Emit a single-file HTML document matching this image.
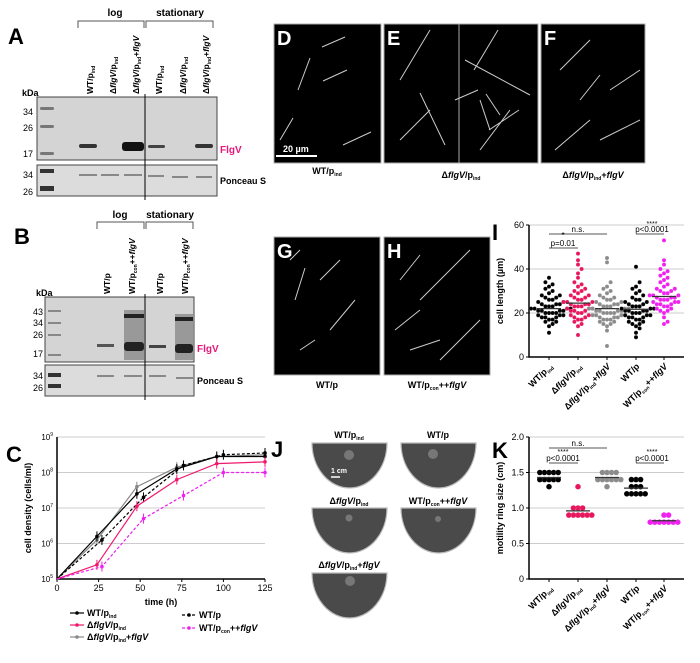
<!DOCTYPE html>
<html><head><meta charset="utf-8"><style>
html,body{margin:0;padding:0;background:#fff}
svg{display:block;font-family:"Liberation Sans",Arial,sans-serif}
</style></head><body>
<svg id="fig" width="700" height="663" viewBox="0 0 700 663">
<g font-weight="bold" font-size="22" fill="#000">
<text x="8" y="44">A</text><text x="14" y="244">B</text><text x="6" y="462">C</text>
<text x="492" y="240">I</text><text x="271" y="457">J</text><text x="492" y="458">K</text>
</g>

<g>
<text x="115" y="16" font-size="10" text-anchor="middle" font-weight="bold">log</text>
<text x="180" y="16" font-size="10" text-anchor="middle" font-weight="bold">stationary</text>
<path d="M78 28V21H144V28M146 28V21H213V28" fill="none" stroke="#555" stroke-width="1"/>
<g font-size="8.5" font-weight="bold">
<text transform="translate(93,94) rotate(-90)">WT/p<tspan font-size="5" dy="2">ind</tspan></text>
<text transform="translate(116,94) rotate(-90)">Δ<tspan font-style="italic">flgV</tspan>/p<tspan font-size="5" dy="2">ind</tspan></text>
<text transform="translate(139,94) rotate(-90)">Δ<tspan font-style="italic">flgV</tspan>/p<tspan font-size="5" dy="2">ind</tspan><tspan dy="-2">+</tspan><tspan font-style="italic">flgV</tspan></text>
<text transform="translate(162,94) rotate(-90)">WT/p<tspan font-size="5" dy="2">ind</tspan></text>
<text transform="translate(186,94) rotate(-90)">Δ<tspan font-style="italic">flgV</tspan>/p<tspan font-size="5" dy="2">ind</tspan></text>
<text transform="translate(209,94) rotate(-90)">Δ<tspan font-style="italic">flgV</tspan>/p<tspan font-size="5" dy="2">ind</tspan><tspan dy="-2">+</tspan><tspan font-style="italic">flgV</tspan></text>
</g>
<text x="22" y="96" font-size="9" font-weight="bold">kDa</text>
<g font-size="9" text-anchor="end"><text x="33" y="115">34</text><text x="33" y="131">26</text><text x="33" y="157">17</text><text x="33" y="178">34</text><text x="33" y="195">26</text></g>
<rect x="37" y="97" width="180" height="63" fill="#d4d4d4" stroke="#444"/>
<rect x="37" y="165" width="180" height="31" fill="#dcdcdc" stroke="#444"/>
<g fill="#777"><rect x="40" y="107" width="14" height="3" rx="1.5"/><rect x="40" y="125" width="14" height="3" rx="1.5"/><rect x="40" y="152" width="14" height="3" rx="1.5"/></g>
<g fill="#333"><rect x="40" y="169" width="14" height="4"/><rect x="40" y="186" width="14" height="5"/></g>
<g fill="#333"><rect x="79" y="144" width="18" height="4" rx="2"/><rect x="122" y="142" width="22" height="9" rx="3" fill="#111"/><rect x="148" y="145" width="17" height="3" rx="1.5" fill="#444"/><rect x="195" y="144" width="18" height="4" rx="2"/></g>
<g fill="#888"><rect x="79" y="174" width="18" height="2"/><rect x="101" y="174" width="18" height="2"/><rect x="124" y="174" width="18" height="2"/><rect x="148" y="175" width="16" height="2"/><rect x="172" y="176" width="16" height="2"/><rect x="196" y="176" width="16" height="2"/></g>
<line x1="145" y1="94" x2="145" y2="200" stroke="#000"/>
<text x="220" y="153" font-size="10" font-weight="bold" fill="#e8177a">FlgV</text>
<text x="220" y="184" font-size="9" font-weight="bold">Ponceau S</text>
</g>

<g>
<path d="M97 229V222H144V229M146 229V222H193V229" fill="none" stroke="#555"/>
<text x="120" y="218" font-size="10" text-anchor="middle" font-weight="bold">log</text>
<text x="170" y="218" font-size="10" text-anchor="middle" font-weight="bold">stationary</text>
<g font-size="8.5" font-weight="bold">
<text transform="translate(110,294) rotate(-90)">WT/p</text>
<text transform="translate(135,294) rotate(-90)">WT/p<tspan font-size="5" dy="2">con</tspan><tspan dy="-2">++</tspan><tspan font-style="italic">flgV</tspan></text>
<text transform="translate(163,294) rotate(-90)">WT/p</text>
<text transform="translate(188,294) rotate(-90)">WT/p<tspan font-size="5" dy="2">con</tspan><tspan dy="-2">++</tspan><tspan font-style="italic">flgV</tspan></text>
</g>
<text x="36" y="296" font-size="9" font-weight="bold">kDa</text>
<g font-size="9" text-anchor="end"><text x="43" y="315">43</text><text x="43" y="326">34</text><text x="43" y="338">26</text><text x="43" y="357">17</text><text x="43" y="379">34</text><text x="43" y="391">26</text></g>
<rect x="45" y="297" width="149" height="65" fill="#d4d4d4" stroke="#444"/>
<rect x="45" y="365" width="149" height="31" fill="#dcdcdc" stroke="#444"/>
<g fill="#888"><rect x="48" y="310" width="13" height="2"/><rect x="48" y="322" width="13" height="2"/><rect x="48" y="334" width="13" height="2"/><rect x="48" y="354" width="13" height="2"/></g>
<g fill="#333"><rect x="48" y="373" width="13" height="4"/><rect x="48" y="384" width="13" height="4"/></g>
<rect x="124" y="310" width="20" height="50" fill="#999"/><rect x="175" y="314" width="18" height="46" fill="#999"/>
<g fill="#222"><rect x="124" y="314" width="20" height="4"/><rect x="175" y="317" width="18" height="4"/><rect x="124" y="342" width="20" height="9" rx="3"/><rect x="175" y="344" width="18" height="9" rx="3"/><rect x="97" y="344" width="17" height="3" fill="#555"/><rect x="149" y="345" width="17" height="3" fill="#444"/></g>
<g fill="#888"><rect x="97" y="375" width="17" height="2"/><rect x="124" y="375" width="18" height="2"/><rect x="149" y="375" width="17" height="2"/><rect x="176" y="377" width="17" height="2"/></g>
<line x1="145" y1="294" x2="145" y2="400" stroke="#000"/>
<text x="197" y="352" font-size="10" font-weight="bold" fill="#e8177a">FlgV</text>
<text x="197" y="384" font-size="9" font-weight="bold">Ponceau S</text>
</g>

<g>
<rect x="274" y="24" width="107" height="139" fill="#000" stroke="#aaa"/>
<rect x="384" y="24" width="154" height="139" fill="#000" stroke="#aaa"/>
<line x1="459" y1="24" x2="459" y2="163" stroke="#aaa"/>
<rect x="541" y="24" width="104" height="139" fill="#000" stroke="#aaa"/>
<rect x="274" y="237" width="106" height="138" fill="#000" stroke="#aaa"/>
<rect x="384" y="237" width="106" height="138" fill="#000" stroke="#aaa"/>
<g stroke="#ccc" stroke-width="1" fill="none">
<path d="M322 47L345 37M310 58L298 90M323 81L347 70M293 118L280 140M343 145L371 132"/>
<path d="M400 80L430 30M420 93L445 145M400 140L430 110M480 150L510 110M474 70L498 30M486 94L500 115M478 90L455 100M480 100L490 130M465 60L530 95M489 130L519 110"/>
<path d="M560 70L590 40M580 100L600 75M555 150L590 120M600 140L640 120M610 90L640 70"/>
<path d="M290 260L300 250M295 300L305 268M320 280L340 260M330 330L355 300M300 350L315 340"/>
<path d="M400 280L420 255M420 300L470 250M395 330L420 310M440 360L480 320M410 350L440 340"/>
</g>
<g font-size="20" font-weight="bold" fill="#fff"><text x="277" y="45">D</text><text x="387" y="45">E</text><text x="544" y="45">F</text><text x="277" y="258">G</text><text x="387" y="258">H</text></g>
<line x1="276" y1="156" x2="317" y2="156" stroke="#fff" stroke-width="2"/>
<text x="283" y="152" font-size="9" font-weight="bold" fill="#fff">20 µm</text>
<g font-size="9" font-weight="bold" text-anchor="middle">
<text x="327" y="174">WT/p<tspan font-size="5" dy="2">ind</tspan></text>
<text x="461" y="178">Δ<tspan font-style="italic">flgV</tspan>/p<tspan font-size="5" dy="2">ind</tspan></text>
<text x="593" y="178">Δ<tspan font-style="italic">flgV</tspan>/p<tspan font-size="5" dy="2">ind</tspan><tspan dy="-2">+</tspan><tspan font-style="italic">flgV</tspan></text>
<text x="327" y="388">WT/p</text>
<text x="437" y="388">WT/p<tspan font-size="5" dy="2">con</tspan><tspan dy="-2">++</tspan><tspan font-style="italic">flgV</tspan></text>
</g>
</g>

<g font-size="9" font-weight="bold" text-anchor="middle">
<text x="349" y="438">WT/p<tspan font-size="5" dy="2">ind</tspan></text>
<text x="438" y="438">WT/p</text>
<text x="349" y="504">Δ<tspan font-style="italic">flgV</tspan>/p<tspan font-size="5" dy="2">ind</tspan></text>
<text x="438" y="504">WT/p<tspan font-size="5" dy="2">con</tspan><tspan dy="-2">++</tspan><tspan font-style="italic">flgV</tspan></text>
<text x="349" y="568">Δ<tspan font-style="italic">flgV</tspan>/p<tspan font-size="5" dy="2">ind</tspan><tspan dy="-2">+</tspan><tspan font-style="italic">flgV</tspan></text>
<g fill="#4a4a4a" stroke="#bbb" stroke-width="1.2">
<path d="M312 443H387A37.5 45 0 0 1 312 443Z"/><path d="M401 443H476A37.5 45 0 0 1 401 443Z"/>
<path d="M312 508H387A37.5 45 0 0 1 312 508Z"/><path d="M401 508H476A37.5 45 0 0 1 401 508Z"/>
<path d="M312 573H387A37.5 45 0 0 1 312 573Z"/>
</g>
<g fill="#777"><circle cx="349" cy="455" r="5"/><circle cx="433" cy="454" r="5"/><circle cx="349" cy="518" r="3.5"/><circle cx="438" cy="519" r="3"/><circle cx="350" cy="581" r="5"/></g>
<line x1="331" y1="477" x2="340" y2="477" stroke="#fff" stroke-width="1.5"/>
<text x="339" y="473" fill="#fff" font-size="7">1 cm</text>
</g>

<g id="chartC"></g>
<g id="chartI"></g>
<g id="chartK"></g>
</svg>
<script>
// ===== Panel C data =====
const cSeriesNames = ["WT/p_ind","ΔflgV/p_ind","ΔflgV/p_ind+flgV","WT/p","WT/p_con++flgV"];
const cTimesA = [0,24,48,72,96,125];
const cTimesB = [0,27,52,76,100,125];
const cWTind = [5,6.2,7.4,8.1,8.45,8.45];
const cDeltaInd = [5,5.4,7.05,7.8,8.25,8.3];
const cDeltaComp = [5,6.1,7.6,8.15,8.45,8.5];
const cWTp = [5,6.1,7.3,8.2,8.5,8.55];
const cWTcon = [5,5.35,6.7,7.35,8.0,8.0];
const cXTicks = [0,25,50,75,100,125];
const cYTicks = [5,6,7,8,9];
// ===== Panel I data =====
const iCats = ["WT/p_ind","ΔflgV/p_ind","ΔflgV/p_ind+flgV","WT/p","WT/p_con++flgV"];
const iMeans = [22,24.5,22,21.7,27.5];
const iWTind = [11,14,15,16,16,17,17,18,18,18,19,19,19,20,20,20,20,21,21,21,21,22,22,22,22,23,23,23,24,24,24,25,25,26,26,27,27,28,28,29,30,31,32,33,34,36];
const iDeltaInd = [10,14,15,16,17,17,18,18,19,19,20,20,21,21,21,22,22,22,23,23,23,24,24,24,25,25,25,26,26,27,27,28,28,29,30,30,31,32,33,34,36,38,40,42,44,47];
const iDeltaComp = [5,12,14,15,15,16,16,17,17,17,18,18,18,19,19,19,19,20,20,20,20,21,21,21,21,22,22,22,22,23,23,23,24,24,24,25,25,26,26,27,27,28,29,30,31,32,34,43,45];
const iWTp = [9,11,13,14,15,15,16,16,17,17,18,18,18,19,19,19,20,20,20,21,21,21,21,22,22,22,23,23,23,24,24,25,25,26,26,27,28,29,30,31,32,34,41];
const iWTcon = [15,16,18,20,21,21,22,22,23,23,24,24,24,25,25,25,26,26,26,27,27,27,28,28,28,29,29,30,30,31,31,32,33,34,35,36,37,38,39,40,42,44,53];
const iYTicks = [0,20,40,60];
// ===== Panel K data =====
const kMeans = [1.43,0.96,1.43,1.28,0.82];
const kWTind = [1.3,1.4,1.4,1.4,1.4,1.4,1.5,1.5,1.5,1.5,1.5];
const kDeltaInd = [0.9,0.9,0.9,0.9,0.9,0.9,1.0,1.0,1.0,1.3];
const kDeltaComp = [1.3,1.4,1.4,1.4,1.4,1.4,1.4,1.5,1.5,1.5,1.5];
const kWTp = [1.2,1.2,1.2,1.2,1.2,1.3,1.3,1.3,1.4,1.4,1.4];
const kWTcon = [0.8,0.8,0.8,0.8,0.8,0.8,0.8,0.9,0.9];
const kYTicks = [0,0.5,1.0,1.5,2.0];
const kYLabels = ["0","0.5","1.0","1.5","2.0"];

const NS="http://www.w3.org/2000/svg";
function mk(tag,attrs,parent){const e=document.createElementNS(NS,tag);for(const k in attrs)e.setAttribute(k,attrs[k]);parent.appendChild(e);return e;}

(function(){
const g=document.getElementById('chartC');
const x0=57,x1=265,yb=579,dec=35.5;
const xs=t=>x0+t*(x1-x0)/125, ys=v=>yb-(v-5)*dec;
cYTicks.forEach(v=>{
 if(v>5){const l=mk('line',{x1:x0,x2:x1,y1:ys(v),y2:ys(v),stroke:'#ccc'},g);}
 const t=mk('text',{x:x0-4,y:ys(v)+3,'font-size':8,'text-anchor':'end'},g);
 
 t.innerHTML='10<tspan font-size="5" dy="-4">'+v+'</tspan>';
});
mk('path',{d:`M${x0} ${ys(9)}V${yb}H${x1}`,fill:'none',stroke:'#000','stroke-width':1.5},g);
cXTicks.forEach(v=>{
 mk('line',{x1:xs(v),x2:xs(v),y1:yb,y2:yb+3,stroke:'#000'},g);
 const t=mk('text',{x:xs(v),y:yb+12,'font-size':9,'text-anchor':'middle'},g);
 t.textContent=v;
});
const xl=mk('text',{x:(x0+x1)/2,y:605,'font-size':9,'font-weight':'bold','text-anchor':'middle'},g);
xl.textContent='time (h)';
const yl=mk('text',{transform:`translate(31,${(yb+ys(9))/2}) rotate(-90)`,'font-size':9,'font-weight':'bold','text-anchor':'middle'},g);
yl.textContent='cell density (cells/ml)';
const series=[[cTimesA,cDeltaComp,'#888',''],[cTimesA,cWTind,'#000',''],[cTimesB,cWTp,'#000','3,2'],[cTimesA,cDeltaInd,'#f0186e',''],[cTimesB,cWTcon,'#f020f0','3,2']];
series.forEach((s,i)=>{
 const d=s[1].map((v,j)=>(j?'L':'M')+xs(s[0][j])+' '+ys(v)).join('');
 const p=mk('path',{d:d,fill:'none',stroke:s[2],'stroke-width':1.2,'stroke-dasharray':s[3]},g);
 
 s[1].forEach((v,j)=>{if(!j)return;
  mk('line',{x1:xs(s[0][j]),x2:xs(s[0][j]),y1:ys(v)-5,y2:ys(v)+5,stroke:s[2]},g);
  const c=mk('circle',{cx:xs(s[0][j]),cy:ys(v),r:1.8,fill:s[2]},g);
  
 });
});
const leg=[[70,616,'#000','','WT/p<tspan font-size="5" dy="2">ind</tspan>'],[70,628,'#f0186e','','Δ<tspan font-style="italic">flgV</tspan>/p<tspan font-size="5" dy="2">ind</tspan>'],[70,640,'#888','','Δ<tspan font-style="italic">flgV</tspan>/p<tspan font-size="5" dy="2">ind</tspan><tspan dy="-2">+</tspan><tspan font-style="italic">flgV</tspan>'],[182,618,'#000','3,2','WT/p'],[182,631,'#f020f0','3,2','WT/p<tspan font-size="5" dy="2">con</tspan><tspan dy="-2">++</tspan><tspan font-style="italic">flgV</tspan>']];
leg.forEach(l=>{
 mk('line',{x1:l[0],x2:l[0]+14,y1:l[1]-3,y2:l[1]-3,stroke:l[2],'stroke-width':1.2,'stroke-dasharray':l[3]},g);
 mk('circle',{cx:l[0]+7,cy:l[1]-3,r:1.8,fill:l[2]},g);
 const t=mk('text',{x:l[0]+17,y:l[1],'font-size':9,'font-weight':'bold'},g);
 t.innerHTML=l[4];
});
})();

const catX=[549,578,607,636,664];
const colors=['#000','#e8175d','#8c8c8c','#000','#f020f0'];
const catLabels=['WT/p<tspan font-size="5" dy="2">ind</tspan>','Δ<tspan font-style="italic">flgV</tspan>/p<tspan font-size="5" dy="2">ind</tspan>','Δ<tspan font-style="italic">flgV</tspan>/p<tspan font-size="5" dy="2">ind</tspan><tspan dy="-2">+</tspan><tspan font-style="italic">flgV</tspan>','WT/p','WT/p<tspan font-size="5" dy="2">con</tspan><tspan dy="-2">++</tspan><tspan font-style="italic">flgV</tspan>'];
function dotPlot(gid,groups,means,ticks,tickLabels,ymax,yTop,yBot,title,r,bin,spread){
 const g=document.getElementById(gid);
 const x0=529,x1=684;const ys=v=>yBot-v*(yBot-yTop)/ymax;
 ticks.forEach((v,i)=>{
  if(v>0){const l=mk('line',{x1:x0,x2:x1,y1:ys(v),y2:ys(v),stroke:'#ccc'},g);}
  mk('line',{x1:x0-3,x2:x0,y1:ys(v),y2:ys(v),stroke:'#000'},g);
  const t=mk('text',{x:x0-5,y:ys(v)+3,'font-size':9,'text-anchor':'end'},g);
  t.textContent=tickLabels[i];
 });
 mk('path',{d:`M${x0} ${yTop}V${yBot}H${x1}`,fill:'none',stroke:'#000','stroke-width':1.5},g);
 const yl=mk('text',{transform:`translate(503,${(yTop+yBot)/2}) rotate(-90)`,'font-size':9,'font-weight':'bold','text-anchor':'middle'},g);
 yl.textContent=title;
 groups.forEach((arr,gi)=>{
  const cx=catX[gi];const bins={};
  arr.forEach(v=>{const b=Math.round(v/bin);bins[b]=(bins[b]||0)+1;const k=bins[b]-1;
   const off=(k%2?1:-1)*Math.ceil(k/2)*spread;
   const c=mk('circle',{cx:cx+off,cy:ys(v),r:r,fill:colors[gi],stroke:'rgba(255,255,255,0.35)','stroke-width':0.3},g);
   
  });
  const m=mk('line',{x1:cx-12,x2:cx+12,y1:ys(means[gi]),y2:ys(means[gi]),stroke:'#333','stroke-width':1.2},g);
  
  mk('line',{x1:cx,x2:cx,y1:yBot,y2:yBot+3,stroke:'#000'},g);
  const t=mk('text',{transform:`translate(${cx+4},${yBot+10}) rotate(-45)`,'font-size':9,'font-weight':'bold','text-anchor':'end'},g);
  t.innerHTML=catLabels[gi];
 });
 return {g,ys};
}
(function(){
 const r=dotPlot('chartI',[iWTind,iDeltaInd,iDeltaComp,iWTp,iWTcon],iMeans,iYTicks,iYTicks.map(String),60,225,357,'cell length (µm)',2,3,3.6);
 const g=r.g;
 mk('line',{x1:549,x2:607,y1:234,y2:234,stroke:'#555'},g);
 mk('text',{x:578,y:232,'font-size':8,'text-anchor':'middle'},g).textContent='n.s.';
 mk('line',{x1:549,x2:578,y1:248,y2:248,stroke:'#555'},g);
 mk('text',{x:563,y:246,'font-size':8,'text-anchor':'middle'},g).textContent='p=0.01';
 mk('text',{x:563,y:238,'font-size':8,'text-anchor':'middle'},g).textContent='*';
 mk('line',{x1:636,x2:664,y1:234,y2:234,stroke:'#555'},g);
 mk('text',{x:652,y:232,'font-size':8,'text-anchor':'middle'},g).textContent='p<0.0001';
 mk('text',{x:652,y:226,'font-size':7,'text-anchor':'middle'},g).textContent='****';
})();
(function(){
 const r=dotPlot('chartK',[kWTind,kDeltaInd,kDeltaComp,kWTp,kWTcon],kMeans,kYTicks,kYLabels,2,437,579,'motility ring size (cm)',2.8,0.1,4.6);
 const g=r.g;
 mk('line',{x1:549,x2:607,y1:448,y2:448,stroke:'#555'},g);
 mk('text',{x:578,y:446,'font-size':8,'text-anchor':'middle'},g).textContent='n.s.';
 mk('line',{x1:549,x2:578,y1:463,y2:463,stroke:'#555'},g);
 mk('text',{x:563,y:461,'font-size':8,'text-anchor':'middle'},g).textContent='p<0.0001';
 mk('text',{x:563,y:454,'font-size':7,'text-anchor':'middle'},g).textContent='****';
 mk('line',{x1:636,x2:664,y1:463,y2:463,stroke:'#555'},g);
 mk('text',{x:652,y:461,'font-size':8,'text-anchor':'middle'},g).textContent='p<0.0001';
 mk('text',{x:652,y:454,'font-size':7,'text-anchor':'middle'},g).textContent='****';
})();
</script>
</body></html>
